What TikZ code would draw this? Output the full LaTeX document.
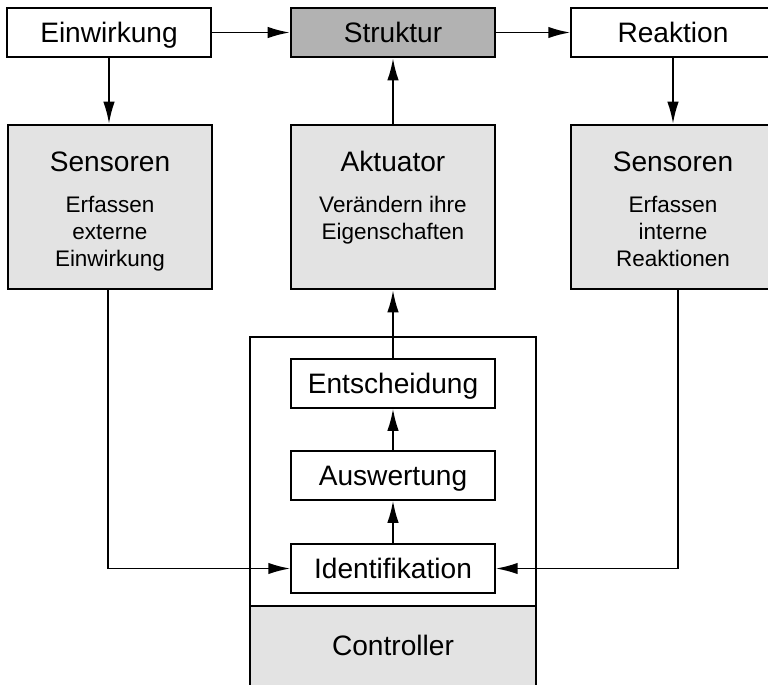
\documentclass[tikz,border=0pt]{standalone}
\usepackage{fontspec}
\setmainfont{Liberation Sans}
\usetikzlibrary{arrows.meta}
\begin{document}
\begin{tikzpicture}[x=0.02cm, y=-0.02cm, >={Latex[length=12.5pt,width=6.5pt]},
    box/.style={draw, line width=.9pt, minimum width=4.08cm, minimum height=.98cm, inner sep=0pt, text height=13pt, text depth=1.5pt, font=\fontsize{16}{19}\selectfont},
    bigbox/.style={draw, line width=1.5pt, fill=black!11, minimum width=4.08cm, minimum height=3.28cm},
    ttl/.style={anchor=base, font=\fontsize{16}{19}\selectfont},
    subtxt/.style={anchor=north, inner sep=0pt, align=center, font=\fontsize{12.8}{15.3}\selectfont},
    conn/.style={line width=1pt}]
\useasboundingbox (0,0) rectangle (768,684);

\node[box] (einw) at (109,32.5) {Einwirkung};
\node[box, fill=black!30, line width=1.5pt] (strukt) at (393,32.5) {Struktur};
\node[box] (reakt) at (673,32.5) {Reaktion};

\node[bigbox] (sensL) at (110,207) {};
\node[bigbox] (akt) at (393,207) {};
\node[bigbox] (sensR) at (673,207) {};
\node[ttl] (sensLt) at (110,171) {Sensoren};
\node[ttl] (aktt) at (393,171) {Aktuator};
\node[ttl] (sensRt) at (673,171) {Sensoren};
\node[subtxt] (sensLs) at (110,196) {Erfassen\\externe\\Einwirkung};
\node[subtxt] (akts) at (393,196) {Verändern ihre\\Eigenschaften};
\node[subtxt] (sensRs) at (673,196) {Erfassen\\interne\\Reaktionen};

\fill[black!11] (250,606) rectangle (536,690);
\draw[line width=.9pt] (250,606) -- (536,606);
\node[draw, line width=1.5pt, minimum width=5.72cm, minimum height=7.06cm] (ctrl) at (393,513.5) {};
\node[ttl, anchor=center] (ctrlt) at (393,645) {Controller};

\node[box] (ent) at (393,383.5) {Entscheidung};
\node[box] (ausw) at (393,475.5) {Auswertung};
\node[box] (ident) at (393,568.5) {Identifikation};

\draw[->, conn] (einw) -- (strukt);
\draw[->, conn] (strukt) -- (reakt);
\draw[->, conn] (einw.south) -- (einw.south |- sensL.north);
\draw[->, conn] (reakt) -- (sensR);
\draw[->, conn] (akt) -- (strukt);
\draw[->, conn] (ent) -- (akt);
\draw[->, conn] (ausw) -- (ent);
\draw[->, conn] (ident) -- (ausw);
\draw[->, conn] ([xshift=-.04cm]sensL.south) |- (ident.west);
\draw[->, conn] ([xshift=.1cm]sensR.south) |- (ident.east);
\end{tikzpicture}
\end{document}
